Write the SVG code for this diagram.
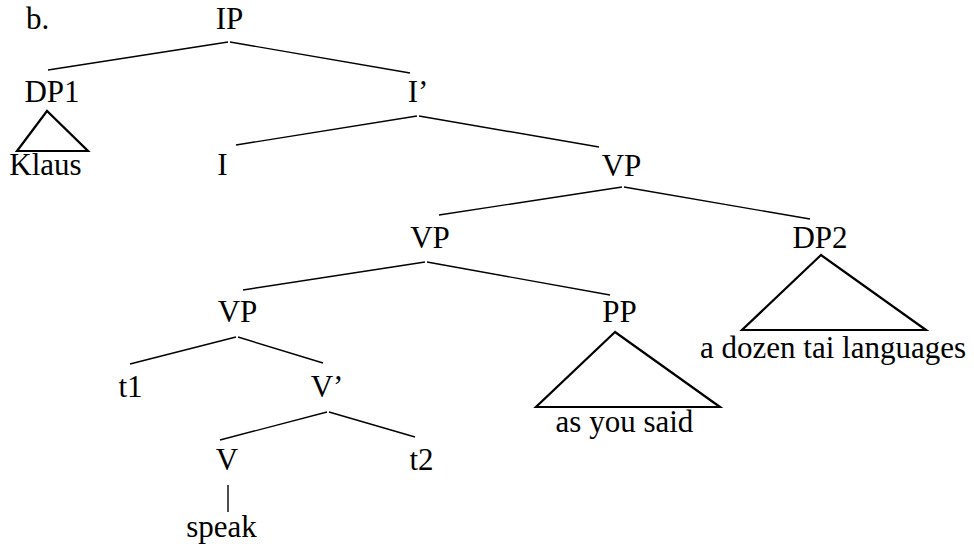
<svg xmlns="http://www.w3.org/2000/svg" width="974" height="555" viewBox="0 0 974 555">
  <style>
    .lbl { font-family: 'Liberation Serif', 'Times New Roman', Tinos, 'Noto Serif', 'DejaVu Serif', FreeSerif, serif; font-size: 31px; fill: #000; text-anchor: middle; }
    .edge { stroke: #000; stroke-width: 1.4; fill: none; }
    .tri { stroke: #000; stroke-width: 2.2; fill: none; stroke-linejoin: miter; }
  </style>
  <rect width="974" height="555" fill="#fff"/>

  <text class="lbl" x="26" y="29" text-anchor="start" style="text-anchor:start">b.</text>

  <!-- branches between nodes -->
  <g id="connectors">
    <path class="edge" d="M228 42 L48 70 M230 42 L410 73"/>
    <path class="edge" d="M417 116 L236 145 M419 116 L599 147"/>
    <path class="edge" d="M622 187 L439 215 M624 187 L810 219"/>
    <path class="edge" d="M425 262 L243 290 M427 262 L610 295"/>
    <path class="edge" d="M236 337 L130 364 M238 337 L323 363"/>
    <path class="edge" d="M327 412 L220 440 M329 412 L415 437"/>
    <path class="edge" d="M228 485 L228 512"/>
  </g>

  <g id="IP"><text class="lbl" x="229.5" y="29">IP</text></g>
  <g id="DP1">
    <text class="lbl" x="52" y="102">DP1</text>
    <path class="tri" d="M47 111 L17 151 L88 151 Z"/>
    <text class="lbl" x="45.5" y="175">Klaus</text>
  </g>
  <g id="Ibar"><text class="lbl" x="418" y="102">I’</text></g>
  <g id="I"><text class="lbl" x="222.5" y="175">I</text></g>
  <g id="VP-top"><text class="lbl" x="621.5" y="176">VP</text></g>
  <g id="VP-mid"><text class="lbl" x="430" y="248">VP</text></g>
  <g id="DP2">
    <text class="lbl" x="820" y="248">DP2</text>
    <path class="tri" d="M821 255 L742 330 L926 330 Z"/>
    <text class="lbl" x="833" y="358">a dozen tai languages</text>
  </g>
  <g id="VP-low"><text class="lbl" x="237.5" y="322">VP</text></g>
  <g id="PP">
    <text class="lbl" x="619.5" y="322">PP</text>
    <path class="tri" d="M615 332 L536 407 L720 407 Z"/>
    <text class="lbl" x="624.5" y="432">as you said</text>
  </g>
  <g id="t1"><text class="lbl" x="130.5" y="397">t1</text></g>
  <g id="Vbar"><text class="lbl" x="327" y="397">V’</text></g>
  <g id="V"><text class="lbl" x="227" y="470">V</text></g>
  <g id="t2"><text class="lbl" x="421.5" y="470">t2</text></g>
  <g id="speak"><text class="lbl" x="221.5" y="537">speak</text></g>
</svg>
